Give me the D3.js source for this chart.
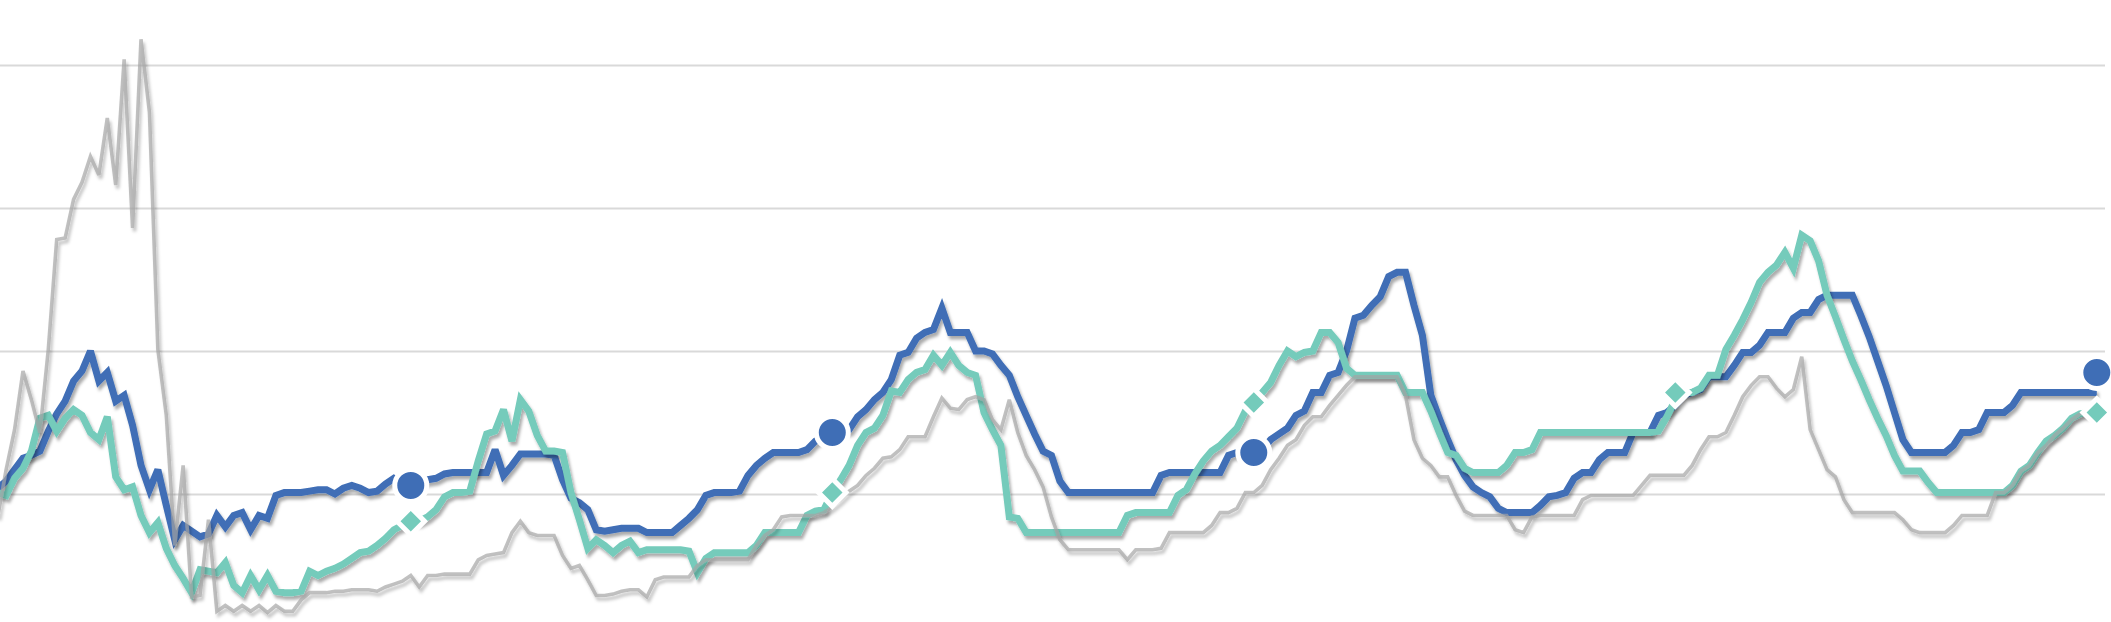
<!DOCTYPE html>
<html>
<head>
<meta charset="utf-8">
<script src="https://cdn.jsdelivr.net/npm/d3@7"></script>
<style>
  html, body { margin: 0; padding: 0; background: #fff; overflow: hidden; }
  #dataviz { width: 2111px; height: 622px; }
</style>
</head>
<body>
<div id="dataviz"></div>
<script>
// chart size
var width = 2111,
    height = 622;

// weekly readings, three series
var blue = [
  104,109,117,125,127,130,144,156,165,179,
  186,200,179,185,165,169,148,120,103,117,
  92,68,78,74,70,72,85,77,85,87,
  75,85,83,99,101,101,101,102,103,103,
  100,104,106,104,101,102,107,111,108,106,
  109,110,111,114,115,115,115,115,115,131,
  113,120,128,128,128,128,127,110,97,94,
  89,75,74,75,76,76,76,73,73,73,
  73,78,83,89,99,101,101,101,102,113,
  120,125,129,129,129,129,131,137,140,143,
  144,145,154,159,166,171,180,197,199,209,
  213,215,230,213,213,213,200,200,198,190,
  183,168,155,142,130,127,109,101,101,101,
  101,101,101,101,101,101,101,101,113,115,
  115,115,115,115,115,115,127,129,129,129,
  131,138,142,146,155,158,171,171,183,185,
  200,223,225,232,238,252,255,255,232,211,
  169,153,138,124,113,105,101,98,90,87,
  87,87,87,92,98,99,101,111,115,115,
  124,129,129,129,143,143,143,155,157,162,
  169,171,173,182,182,182,190,199,199,204,
  213,213,213,223,227,227,236,239,239,239,
  239,225,210,193,176,157,138,129,129,129,
  129,129,134,143,143,145,157,157,157,162,
  171,171,171,171,171,171,171,171,171,171
];

var teal = [
  101,99,111,118,130,153,155,144,153,159,
  155,143,138,154,112,103,105,85,73,80,
  62,50,41,31,47,46,45,52,36,31,
  43,33,43,32,31,31,32,46,43,46,
  48,51,55,59,60,64,69,75,78,81,
  81,84,89,98,101,101,102,123,142,144,
  159,137,166,158,141,130,130,129,101,82,
  62,68,64,59,64,67,59,61,61,61,
  61,61,60,45,55,59,59,59,59,59,
  64,73,73,73,73,73,85,88,89,101,
  110,120,134,143,146,155,172,171,180,185,
  187,197,190,199,190,185,183,157,145,134,
  84,83,73,73,73,73,73,73,73,73,
  73,73,73,73,85,87,87,87,87,87,
  99,103,114,123,130,134,140,146,158,164,
  171,178,190,200,196,199,200,213,213,206,
  188,183,183,183,183,183,183,171,171,171,
  158,143,129,127,118,115,115,115,115,120,
  129,129,131,143,143,143,143,143,143,143,
  143,143,143,143,143,143,143,144,154,166,
  171,171,174,183,183,201,211,222,234,248,
  255,260,269,258,281,277,263,239,224,208,
  193,180,166,153,141,127,116,116,116,108,
  101,101,101,101,101,101,101,101,101,106,
  116,120,129,137,141,146,153,156,157,157
];

var grey = [
  84,117,145,186,166,143,201,278,279,306,
  318,336,323,363,316,404,286,418,367,201,
  155,64,120,28,29,82,18,22,18,22,
  18,22,17,22,18,18,26,31,31,31,
  32,32,33,33,33,32,35,37,39,43,
  35,43,43,44,44,44,44,54,57,58,
  59,73,81,73,71,71,71,57,48,50,
  40,29,29,30,32,33,33,28,40,42,
  42,42,42,50,54,54,54,54,54,54,
  64,71,75,84,85,85,85,85,87,91,
  96,102,106,113,118,125,126,131,140,140,
  140,154,167,160,159,166,168,166,152,145,
  166,143,127,117,105,84,68,61,61,61,
  61,61,61,61,54,61,61,61,62,73,
  73,73,73,73,78,87,87,90,101,101,
  106,117,125,134,138,148,154,154,162,169,
  176,182,182,182,182,182,182,169,138,125,
  120,112,112,99,88,85,85,85,85,85,
  75,73,84,85,85,85,85,85,96,99,
  99,99,99,99,99,106,113,113,113,113,
  113,120,131,140,140,143,155,168,176,182,
  182,174,168,173,196,145,131,117,112,96,
  87,87,87,87,87,87,82,75,73,73,
  73,73,78,85,85,85,85,101,101,106,
  116,120,129,134,141,146,152,156,158,159
];

// yearly markers (index of the week, value)
var markWeeks = [49, 99, 149, 199, 249];
var blueMarks = [106, 143, 129, null, 185];
var tealMarks = [81, 101, 164, 171, 157];

// gridline values
var yTicks = [100, 200, 300, 400];

var svg = d3.select("#dataviz")
    .append("svg")
    .attr("width", width)
    .attr("height", height);

// soft shadow under the lines, like the original
var defs = svg.append("defs");
var f = defs.append("filter")
    .attr("id", "shadow")
    .attr("x", "-2%").attr("y", "-10%")
    .attr("width", "104%").attr("height", "125%");
f.append("feDropShadow")
    .attr("dx", 2).attr("dy", 3.5)
    .attr("stdDeviation", 1.8)
    .attr("flood-color", "#000")
    .attr("flood-opacity", 0.33);

var x = d3.scaleLinear()
    .domain([0, blue.length - 1])
    .range([-2.3, 2096.8]);

var y = d3.scaleLinear()
    .domain([0, 400])
    .range([637, 65]);

// gridlines only, no labels
var grid = svg.append("g")
    .attr("class", "grid")
    .call(d3.axisLeft(y).tickValues(yTicks).tickSize(-2105).tickFormat(""));
grid.select(".domain").remove();
grid.selectAll("line")
    .attr("stroke", "#d9d9d9")
    .attr("stroke-width", 2);

var line = d3.line()
    .x(function(d, i) { return x(i); })
    .y(function(d) { return y(d); });

var series = [
  { name: "blue", values: blue, color: "#3f6eb6", w: 7, op: 1 },
  { name: "teal", values: teal, color: "#74cbbb", w: 7, op: 1 },
  { name: "grey", values: grey, color: "#a3a3a3", w: 3.6, op: 0.68 }
];

svg.selectAll(".series")
  .data(series)
  .enter()
  .append("path")
    .attr("class", "series")
    .attr("d", function(d) { return line(d.values); })
    .attr("fill", "none")
    .attr("stroke", function(d) { return d.color; })
    .attr("stroke-width", function(d) { return d.w; })
    .attr("stroke-opacity", function(d) { return d.op; })
    .attr("stroke-linejoin", "miter")
    .attr("stroke-miterlimit", 3)
    .attr("filter", "url(#shadow)");

// diamonds for the teal series
var tealPts = markWeeks.map(function(w, k) { return { w: w, v: tealMarks[k] }; })
    .filter(function(d) { return d.v != null; });
svg.selectAll(".diamond")
  .data(tealPts)
  .enter()
  .append("path")
    .attr("class", "diamond")
    .attr("d", d3.symbol().type(d3.symbolSquare).size(380))
    .attr("transform", function(d) { return "translate(" + x(d.w) + "," + y(d.v) + ") rotate(45)"; })
    .attr("fill", "#74cbbb")
    .attr("stroke", "#fff")
    .attr("stroke-width", 5);

// circles for the blue series
var bluePts = markWeeks.map(function(w, k) { return { w: w, v: blueMarks[k] }; })
    .filter(function(d) { return d.v != null; });
svg.selectAll(".dot")
  .data(bluePts)
  .enter()
  .append("circle")
    .attr("class", "dot")
    .attr("cx", function(d) { return x(d.w); })
    .attr("cy", function(d) { return y(d.v); })
    .attr("r", 16)
    .attr("fill", "#3f6eb6")
    .attr("stroke", "#fff")
    .attr("stroke-width", 5);
</script>
</body>
</html>
